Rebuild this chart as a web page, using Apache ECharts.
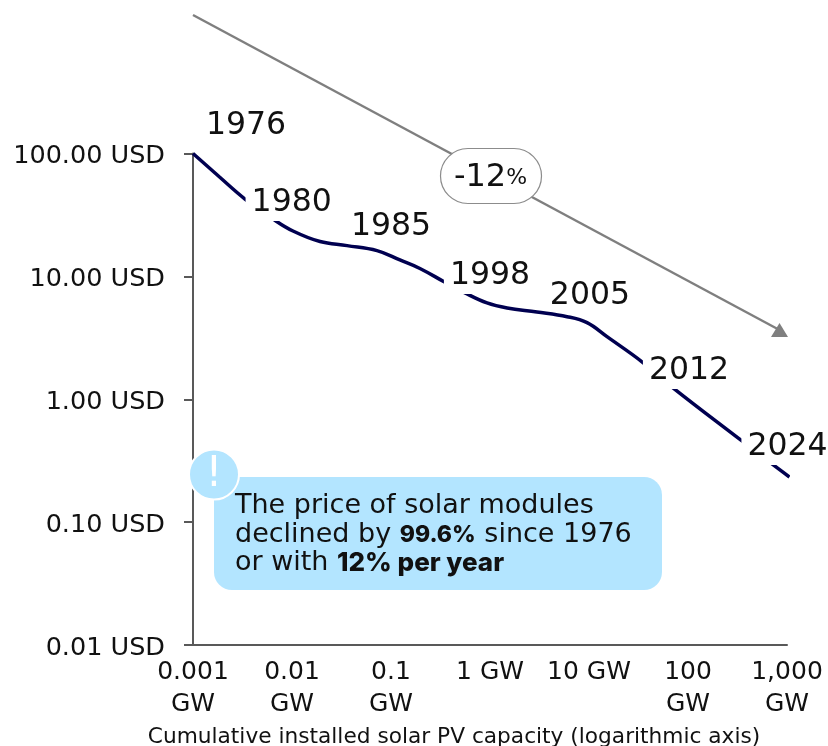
<!DOCTYPE html>
<html><head><meta charset="utf-8">
<script src="https://cdn.jsdelivr.net/npm/echarts@6/dist/echarts.min.js"></script>
<style>html,body{margin:0;padding:0;background:#fff}#c{width:828px;height:746px}</style></head>
<body><div id="c"></div>
<script>
const capacityGW = [0.001,0.00183,0.00335,0.00643,0.01023,0.0192,0.036,0.0722,0.123,0.196,0.351,0.559,0.933,1.49,2.98,6,9.55,15.2,34.8,70.5,351,705,1060];
const priceUSD   = [100,65,42.6,29.3,23.4,19.2,17.8,16.2,13.6,11.6,8.95,7.33,6.08,5.53,5.13,4.7,4.2,3.23,2,1.24,0.458,0.298,0.233];
const trendCapacity = [0.001,840];
const trendPrice = [1340,3.66];
const years = ['1976','1980','1985','1998','2005','2012','2024'];
const yearCapacity = [0.001,0.0045,0.0722,0.559,2.98,100,1060];
const yearPrice = [100,36,16.2,7.33,5.13,0.97,0.233];
const xTickLabels = {0.001:'0.001\nGW',0.01:'0.01\nGW',0.1:'0.1\nGW',1:'1 GW',10:'10 GW',100:'100\nGW',1000:'1,000\nGW'};
const annotationBold = ['99.6%','12% per year'];

const FONT = '"DejaVu Sans"';
const TXT = '#111';
const labelOffsets = [[53,-28],[34,-5],[14,-24],[25,-17],[53,-16],[1,-30],[-2,-30]];
const masksLine = [false,true,false,true,false,true,true];
const zip = (a,b)=>a.map((v,i)=>[v,b[i]]);
const chart = echarts.init(document.getElementById('c'),null,{renderer:'canvas'});
chart.setOption({
  animation:false,
  backgroundColor:'#fff',
  grid:{left:193,right:41,top:153.5,bottom:101,outerBoundsMode:'none'},
  xAxis:{type:'log',logBase:10,min:0.001,max:1000,
    axisLine:{show:true,lineStyle:{color:'#595959',width:2}},
    axisTick:{show:false},splitLine:{show:false},minorTick:{show:false},
    axisLabel:{color:TXT,fontFamily:FONT,fontSize:25,lineHeight:32.5,margin:11,verticalAlign:'top',
      showMinLabel:true,showMaxLabel:true,hideOverlap:false,
      formatter:v=>{const k=Object.keys(xTickLabels).find(q=>Math.abs(Math.log10(+q)-Math.log10(v))<1e-6);return k?xTickLabels[k]:'';}},
    name:'Cumulative installed solar PV capacity (logarithmic axis)',nameLocation:'middle',nameGap:75,
    nameTextStyle:{color:TXT,fontFamily:FONT,fontSize:21.7,padding:[0,72,0,0]}},
  yAxis:{type:'log',logBase:10,min:0.01,max:100,
    axisLine:{show:true,lineStyle:{color:'#595959',width:2}},
    axisTick:{show:true,length:9,lineStyle:{color:'#595959',width:2}},
    splitLine:{show:false},minorTick:{show:false},
    axisLabel:{margin:28,showMinLabel:true,showMaxLabel:true,
      formatter:v=>'{a|'+v.toFixed(2)+' USD}',
      rich:{a:{color:TXT,fontFamily:FONT,fontSize:25.5,padding:[6,0,0,0]}}}},
  series:[
    {type:'line',data:zip(trendCapacity,trendPrice),clip:false,symbol:'none',silent:true,z:1,
     lineStyle:{color:'#7f7f7f',width:2.5}},
    {type:'scatter',data:[[trendCapacity[1],trendPrice[1]]],clip:false,symbol:'triangle',symbolSize:[17,14],
     itemStyle:{color:'#7f7f7f',opacity:1},z:1,silent:true},
    {type:'line',data:zip(capacityGW,priceUSD),clip:false,smooth:0.4,symbol:'none',z:2,
     lineStyle:{color:'#000050',width:3.5}},
    {type:'scatter',clip:false,symbolSize:0,z:3,silent:true,itemStyle:{opacity:1},
     data:years.map((y,i)=>({name:y,value:[yearCapacity[i],yearPrice[i]],
       label:{show:true,position:'inside',offset:labelOffsets[i],formatter:y,color:TXT,fontFamily:FONT,
         fontSize:31.5,backgroundColor:masksLine[i]?'#fff':'transparent',padding:[2,6,2,6]}}))}
  ],
  graphic:[
    {type:'rect',z:10,shape:{x:440.5,y:148.5,width:101,height:55,r:27.5},style:{fill:'#fff',stroke:'#8c8c8c',lineWidth:1.2}},
    {type:'text',z:11,x:490.5,y:178,style:{text:'{a|-12}{b|%}',align:'center',verticalAlign:'middle',
      rich:{a:{font:'32px '+FONT,fill:TXT},b:{font:'22px '+FONT,fill:TXT}}}},
    {type:'rect',z:10,shape:{x:214,y:477,width:448,height:113,r:18},style:{fill:'#B3E5FF'}},
    {type:'circle',z:11,shape:{cx:214,cy:474.5,r:25},style:{fill:'#B3E5FF',stroke:'#fff',lineWidth:2}},
    {type:'text',z:12,x:214,y:475,style:{text:'!',align:'center',verticalAlign:'middle',font:'42px '+FONT,fill:'#fff'}},
    {type:'text',z:12,x:235,y:492,style:{
      text:'The price of solar modules\ndeclined by {c|'+annotationBold[0]+'} since 1976\nor with {b|'+annotationBold[1]+'}',
      font:'27px '+FONT,fill:TXT,lineHeight:28.5,
      rich:{b:{font:'800 26px Inter',fill:TXT,lineHeight:28.5},c:{font:'800 23px Inter',fill:TXT,lineHeight:28.5}}}}
  ]
});
</script></body></html>
